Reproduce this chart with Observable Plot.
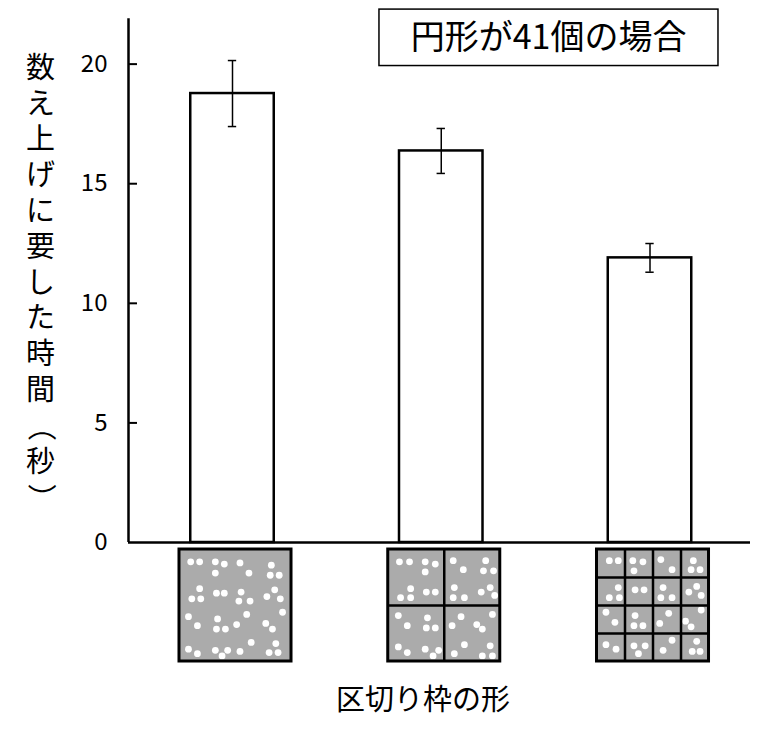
<!DOCTYPE html>
<html><head><meta charset="utf-8">
<script src="https://cdn.jsdelivr.net/npm/d3@7"></script>
<script src="https://cdn.jsdelivr.net/npm/@observablehq/plot@0.6"></script>
<style>
body{margin:0;background:#fff;}
</style></head><body><div id="chart"></div>
<script>
// ---- data ----
const categories = ["区切りなし", "2×2に区切る", "4×4に区切る"];
const means = [18.77, 16.37, 11.9];
const errors = [1.38, 0.94, 0.6];
const gridDivisions = [1, 2, 4];
const yTicks = [0, 5, 10, 15, 20];
const title = "円形が41個の場合";
const yLabel = "数え上げに要した時間（秒）";
const xLabel = "区切り枠の形";
// dot positions inside each tile, in percent of tile width / height (from top-left)
const dotsTile1 = [[10,11],[18,11],[32,11],[40,13],[54,12],[82,14],[32,21],[62,21],[81,23],[89,23],
  [18,35],[33,39],[40,39],[55,38],[85,36],[11,44],[19,44],[53,46],[63,46],[78,42],[90,44],
  [92,56],[8,60],[60,58],[34,62],[77,66],[16,68],[51,67],[33,71],[41,71],[83,71],
  [64,83],[86,84],[8,89],[16,93],[32,90],[43,90],[38,95],[54,91],[80,92],[88,92]];
const dotsTile2 = [[10,11],[19,11],[33,11],[42,13],[33,20],[20,35],[11,43],[20,43],[34,38],[42,38],
  [58,10],[67,18],[87,10],[85,19],[94,19],[59,34],[91,34],[83,38],[58,43],[68,43],[95,41],
  [9,59],[17,68],[35,61],[34,70],[42,70],[9,87],[17,92],[33,89],[45,90],[40,95],
  [65,60],[93,58],[57,68],[79,67],[84,71],[68,85],[91,86],[59,93],[84,95],[93,95]];
const dotsTile3 = [[11,10],[19,10],[32,10],[41,11],[33,19],[57,9],[67,18],[86,10],[84,18],[92,18],
  [19,34],[11,43],[20,43],[34,36],[42,36],[59,34],[57,43],[67,43],[89,33],[82,38],[93,41],
  [8,56],[16,65],[34,59],[33,68],[41,68],[64,57],[56,66],[93,54],[79,64],[84,69],
  [8,85],[17,89],[33,86],[43,86],[37,93],[67,81],[59,90],[89,82],[85,91],[92,91]];
const tileDots = [dotsTile1, dotsTile2, dotsTile3];

// ---- layout constants (data units) ----
const X0 = -0.4982, X1 = 2.4814;
const BAR_HALF = 0.2, CAP = 0.02;
const AXIS_TOP = 21.9;
const TILE_CY = -2.634, TILE_HH = 2.341, TILE_HW = 0.2683, TILE_DX = 3;
const YLAB_X = -0.92, YLAB_TOP = 19.82, YLAB_STEP = 1.497;

const bars = categories.map((c, i) => ({i, c, mean: means[i], lo: means[i] - errors[i], hi: means[i] + errors[i]}));
const tiles = gridDivisions.map((n, i) => ({i, n, x1: i - TILE_HW, x2: i + TILE_HW, y1: TILE_CY - TILE_HH, y2: TILE_CY + TILE_HH}));
const vDiv = [], hDiv = [];
tiles.forEach(t => {
  for (let k = 1; k < t.n; k++) {
    vDiv.push({x: t.x1 + (t.x2 - t.x1) * k / t.n, y1: t.y1, y2: t.y2});
    hDiv.push({y: t.y1 + (t.y2 - t.y1) * k / t.n, x1: t.x1, x2: t.x2});
  }
});
const dots = [];
tiles.forEach(t => tileDots[t.i].forEach(([u, v]) => dots.push({x: t.x1 + (t.x2 - t.x1) * u / 100, y: t.y2 - (t.y2 - t.y1) * v / 100})));
// vertical (tategaki) y label: one glyph per line, brackets turned
const yLabelChars = Array.from(yLabel).map((ch, k) => ({ch, k, rot: "（）".includes(ch) ? 90 : 0}));

const chart = Plot.plot({
  width: 768, height: 733,
  marginLeft: 128, marginRight: 18, marginTop: 0, marginBottom: 0,
  style: {fontFamily: "'Noto Sans CJK JP', sans-serif", background: "white", color: "black"},
  x: {type: "linear", domain: [X0, X1], axis: null},
  y: {type: "linear", domain: [-7.985, 22.66]},
  marks: [
    // tiles
    Plot.rect(tiles, {x1: "x1", x2: "x2", y1: "y1", y2: "y2", fill: "#ababab", dx: TILE_DX}),
    Plot.dot(dots, {x: "x", y: "y", r: 3.4, fill: "white", stroke: null, dx: TILE_DX}),
    Plot.ruleX(vDiv, {x: "x", y1: "y1", y2: "y2", stroke: "black", strokeWidth: 2.5, dx: TILE_DX}),
    Plot.ruleY(hDiv, {y: "y", x1: "x1", x2: "x2", stroke: "black", strokeWidth: 2.5, dx: TILE_DX}),
    Plot.rect(tiles, {x1: "x1", x2: "x2", y1: "y1", y2: "y2", fill: "none", stroke: "black", strokeWidth: 3, dx: TILE_DX}),
    // bars
    Plot.rect(bars, {x1: d => d.i - BAR_HALF, x2: d => d.i + BAR_HALF, y1: 0, y2: "mean", fill: "white", stroke: "black", strokeWidth: 2.5}),
    Plot.ruleX(bars, {x: "i", y1: "lo", y2: "hi", stroke: "black", strokeWidth: 1.5}),
    Plot.ruleY(bars, {y: "hi", x1: d => d.i - CAP, x2: d => d.i + CAP, stroke: "black", strokeWidth: 1.5}),
    Plot.ruleY(bars, {y: "lo", x1: d => d.i - CAP, x2: d => d.i + CAP, stroke: "black", strokeWidth: 1.5}),
    // axes
    Plot.ruleX([X0], {y1: 0, y2: AXIS_TOP, stroke: "black", strokeWidth: 2.5}),
    Plot.ruleY([0], {x1: X0, x2: X1, stroke: "black", strokeWidth: 2.5}),
    Plot.ruleY(yTicks.filter(t => t > 0), {y: d => d, x1: X0, x2: X0 + 0.043, stroke: "black", strokeWidth: 2}),
    Plot.axisY(yTicks, {anchor: "left", tickSize: 0, tickPadding: 21, fontSize: 24, label: null}),
    // title box
    Plot.rect([title], {x1: 0.704, x2: 2.328, y1: 19.92, y2: 22.28, fill: "white", stroke: "black", strokeWidth: 1.5}),
    Plot.text([title], {x: 1.514, y: 21.1, text: d => d, fontSize: 34}),
    // axis labels
    Plot.text(yLabelChars, {x: YLAB_X, y: d => YLAB_TOP - d.k * YLAB_STEP, text: "ch", rotate: "rot", fontSize: 29}),
    Plot.text([xLabel], {x: 0.9126, y: -6.6, text: d => d, fontSize: 29})
  ]
});
document.getElementById("chart").appendChild(chart);
</script>
</body></html>
